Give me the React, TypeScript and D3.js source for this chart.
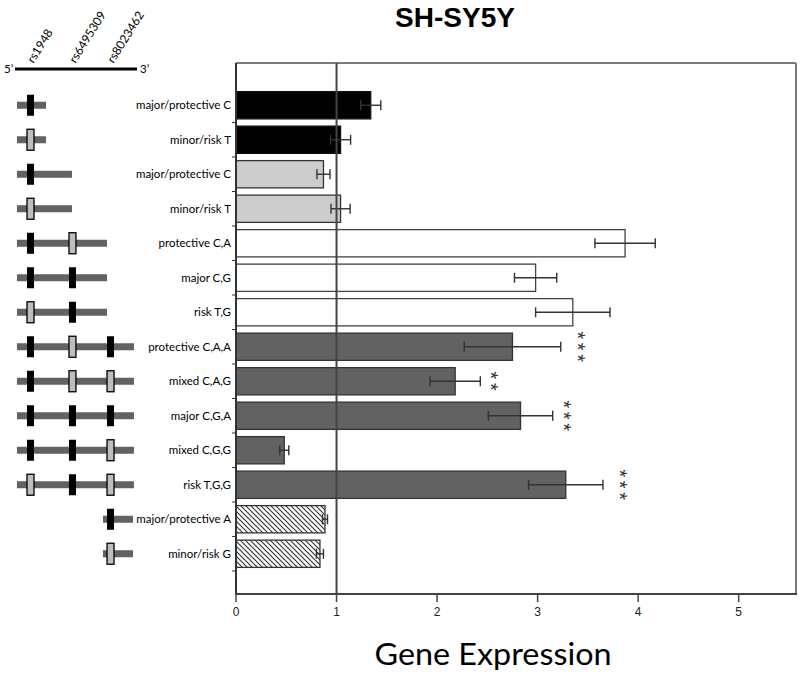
import React from "react";
import * as d3 from "d3";

const labels = [
  "major/protective C", "minor/risk T", "major/protective C", "minor/risk T",
  "protective C,A", "major C,G", "risk T,G", "protective C,A,A", "mixed C,A,G",
  "major C,G,A", "mixed C,G,G", "risk T,G,G", "major/protective A", "minor/risk G",
];
const means = [1.34, 1.04, 0.87, 1.04, 3.87, 2.98, 3.35, 2.75, 2.18, 2.83, 0.48, 3.28, 0.885, 0.835];
const errs = [0.1, 0.1, 0.065, 0.095, 0.3, 0.21, 0.37, 0.48, 0.25, 0.32, 0.045, 0.37, 0.025, 0.035];
const groups = ["black", "black", "light", "light", "white", "white", "white", "dark", "dark", "dark", "dark", "dark", "hatch", "hatch"];
const sigStars = ["", "", "", "", "", "", "", "***", "**", "***", "", "***", "", ""];
const sigX = [0, 0, 0, 0, 0, 0, 0, 3.45, 2.58, 3.31, 0, 3.86, 0, 0];
const xTicks = [0, 1, 2, 3, 4, 5];

// construct schematic: alleles at the three SNPs ("M" major, "m" minor, "" absent)
const snpNames = ["rs1948", "rs6495309", "rs8023462"];
const snpPos = [12.7, 47.1, 78.3];
const alleles = [
  ["M", "", ""], ["m", "", ""], ["M", "", ""], ["m", "", ""],
  ["M", "m", ""], ["M", "M", ""], ["m", "M", ""],
  ["M", "m", "M"], ["M", "m", "m"], ["M", "M", "M"], ["M", "M", "m"], ["m", "M", "m"],
  ["", "", "M"], ["", "", "m"],
];
const spanStart = [1.6, 1.6, 1.6, 1.6, 1.6, 1.6, 1.6, 1.6, 1.6, 1.6, 1.6, 1.6, 72.1, 72.1];
const spanEnd = [25.4, 25.4, 46.7, 46.7, 75.4, 75.4, 75.4, 97.5, 97.5, 97.5, 97.5, 97.5, 96.7, 96.7];

const fills: Record<string, string> = {
  black: "#000000",
  light: "#cccccc",
  white: "#ffffff",
  dark: "#626262",
  hatch: "url(#hatch)",
};
const strokes: Record<string, string> = {
  black: "#111",
  light: "#333",
  white: "#444",
  dark: "#333",
  hatch: "#333",
};

const W = 800, H = 675;
const plotL = 236, plotR = 796, plotT = 63, plotB = 594;

export default function App() {
  const x = d3.scaleLinear().domain([0, 5.57]).range([plotL, plotR]);
  const ids = labels.map((_, i) => String(i));
  const y = d3.scaleBand().domain(ids).range([88, 571]).paddingInner(0.21).paddingOuter(0.105);
  const step = y.step();
  const g = d3.scaleLinear().domain([0, 100]).range([15, 137]);
  const labelFont = "Lato, 'Open Sans', sans-serif";
  const starFs = 20;
  const starLs = 3.7;

  return (
    <svg width={W} height={H} style={{ position: "absolute", left: 0, top: 0, background: "#fff" }}>
      <defs>
        <pattern id="hatch" patternUnits="userSpaceOnUse" width={5} height={5}>
          <rect width={5} height={5} fill="#fff" />
          <path d="M-1,-1 L6,6 M-1,4 L1,6 M4,-1 L6,1" stroke="#333" strokeWidth={1.1} />
        </pattern>
      </defs>

      {/* title */}
      <text x={455} y={27} textAnchor="middle" fontFamily="'Liberation Sans', Arial, sans-serif"
        fontWeight="bold" fontSize={28} fill="#000">SH-SY5Y</text>

      {/* gene header */}
      <line x1={g(0)} x2={g(100)} y1={69} y2={69} stroke="#000" strokeWidth={3} />
      <text x={4} y={73} fontFamily={labelFont} fontSize={11.5} fill="#000">5’</text>
      <text x={140} y={73} fontFamily={labelFont} fontSize={11.5} fill="#000">3’</text>
      {snpNames.map((n, i) => {
        const sx = g(snpPos[i]) + 3;
        const sy = 64;
        return (
          <text key={n} x={sx} y={sy} transform={`rotate(-58 ${sx} ${sy})`}
            fontFamily={labelFont} fontSize={12} fill="#000">{n}</text>
        );
      })}

      {/* schematic rows */}
      {ids.map((id, i) => {
        const cy = (y(id) as number) + y.bandwidth() / 2;
        return (
          <g key={"s" + i}>
            <rect x={g(spanStart[i])} y={cy - 3.5} width={g(spanEnd[i]) - g(spanStart[i])} height={7} fill="#626262" />
            {alleles[i].map((a, j) =>
              a ? (
                <rect key={j} x={g(snpPos[j]) - 3.5} y={cy - 10.5} width={7} height={21}
                  fill={a === "M" ? "#000" : "#bdbdbd"} stroke="#000" strokeWidth={a === "M" ? 0 : 1.3} />
              ) : null
            )}
          </g>
        );
      })}

      {/* row labels */}
      {ids.map((id, i) => (
        <text key={"l" + i} x={231} y={(y(id) as number) + y.bandwidth() / 2 + 4}
          textAnchor="end" fontFamily={labelFont} fontSize={11.5} fill="#000">{labels[i]}</text>
      ))}

      {/* frame */}
      <line x1={plotL} x2={plotR} y1={plotT} y2={plotT} stroke="#7a7a7a" strokeWidth={2} />
      <line x1={plotR} x2={plotR} y1={plotT} y2={plotB} stroke="#7a7a7a" strokeWidth={2} />

      {/* bars */}
      {ids.map((id, i) => (
        <rect key={"b" + i} x={x(0)} y={y(id)} width={x(means[i]) - x(0)} height={y.bandwidth()}
          fill={fills[groups[i]]} stroke={strokes[groups[i]]} strokeWidth={1.3} />
      ))}

      {/* error bars */}
      {ids.map((id, i) => {
        const cy = (y(id) as number) + y.bandwidth() / 2;
        const lo = x(means[i] - errs[i]);
        const hi = x(means[i] + errs[i]);
        return (
          <g key={"e" + i} stroke="#333" strokeWidth={1.4}>
            <line x1={lo} x2={hi} y1={cy} y2={cy} />
            <line x1={lo} x2={lo} y1={cy - 5} y2={cy + 5} />
            <line x1={hi} x2={hi} y1={cy - 5} y2={cy + 5} />
          </g>
        );
      })}

      {/* reference line at 1 */}
      <line x1={x(1)} x2={x(1)} y1={plotT} y2={plotB} stroke="#444" strokeWidth={2} />

      {/* significance stars, stacked vertically */}
      {ids.map((id, i) => {
        if (!sigStars[i]) return null;
        const cy = (y(id) as number) + y.bandwidth() / 2;
        const bx = x(sigX[i]) - 0.57 * starFs;
        return (
          <text key={"st" + i} transform={`translate(${bx},${cy + starLs / 2}) rotate(90)`}
            x={0} y={0} textAnchor="middle" letterSpacing={starLs}
            fontFamily="'Liberation Sans', Arial, sans-serif" fontSize={starFs} fill="#333">{sigStars[i]}</text>
        );
      })}

      {/* left axis with band ticks */}
      <line x1={plotL} x2={plotL} y1={plotT} y2={plotB} stroke="#333" strokeWidth={2} />
      {d3.range(1, labels.length + 1).map((k) => {
        const yy = 88 + y.paddingOuter() * step + k * step - (step - y.bandwidth()) / 2;
        return (
          <line key={"yt" + k} x1={plotL - 4} x2={plotL} y1={yy} y2={yy} stroke="#333" strokeWidth={1} />
        );
      })}

      {/* x axis */}
      <line x1={plotL - 1} x2={plotR + 1} y1={plotB} y2={plotB} stroke="#444" strokeWidth={2} />
      {xTicks.map((t) => (
        <g key={"xt" + t}>
          <line x1={x(t)} x2={x(t)} y1={plotB} y2={plotB + 8} stroke="#444" strokeWidth={1.5} />
          <text x={x(t)} y={plotB + 22} textAnchor="middle" fontFamily="'Liberation Sans', Arial, sans-serif"
            fontSize={12} fill="#222">{t}</text>
        </g>
      ))}

      <text x={493} y={665} textAnchor="middle" fontFamily={labelFont} fontSize={31} fill="#000"
        textLength={237} lengthAdjust="spacingAndGlyphs">Gene Expression</text>
    </svg>
  );
}
